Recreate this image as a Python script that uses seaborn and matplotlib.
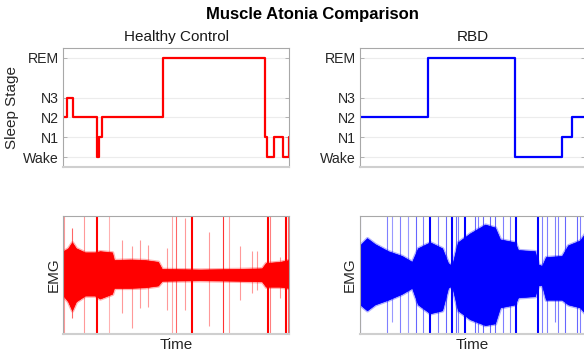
import matplotlib
matplotlib.use("Agg")
import matplotlib.pyplot as plt
from matplotlib.colors import to_rgba
import pandas as pd
import seaborn as sns

# ---------------- data ----------------
stage_names = ["Wake", "N1", "N2", "N3", "REM"]
stage_levels = [0, 1, 2, 3, 5]

# hypnograms (hours, stage label) - step changes
hc_times = [0.0, 0.12, 0.34, 1.18, 1.28, 1.36, 3.53, 7.16, 7.24, 7.49, 7.81, 8.0]
hc_stages = ["N2", "N3", "N2", "Wake", "N1", "N2", "REM", "N1", "Wake", "N1", "Wake", "N1"]

rbd_times = [0.0, 2.43, 5.52, 7.17, 7.53, 8.0]
rbd_stages = ["N2", "REM", "Wake", "N1", "N2", "N2"]

# EMG envelopes (hours, upper amplitude, lower amplitude)
hc_env_t = [0.0, 0.17, 0.31, 0.45, 0.77, 1.12, 1.30, 1.73, 1.80, 2.37, 2.90, 3.36, 3.50,
            4.85, 6.27, 7.05, 7.19, 7.69, 8.0]
hc_env_up = [0.40, 0.45, 0.55, 0.45, 0.38, 0.38, 0.40, 0.38, 0.25, 0.26, 0.25, 0.22, 0.10,
             0.09, 0.10, 0.11, 0.20, 0.22, 0.25]
hc_env_lo = [0.35, 0.45, 0.60, 0.45, 0.35, 0.35, 0.40, 0.32, 0.22, 0.22, 0.21, 0.18, 0.10,
             0.09, 0.10, 0.11, 0.20, 0.20, 0.22]

rbd_env_t = [0.0, 0.25, 0.53, 1.0, 1.49, 1.85, 2.06, 2.49, 2.92, 3.13, 3.27, 3.48, 3.91,
             4.45, 4.80, 4.98, 5.51, 5.62, 6.22, 6.33, 6.47, 6.61, 7.18, 7.40, 7.82, 8.0]
rbd_env_up = [0.50, 0.62, 0.52, 0.40, 0.32, 0.22, 0.45, 0.55, 0.45, 0.20, 0.15, 0.55, 0.70,
              0.85, 0.80, 0.60, 0.55, 0.42, 0.40, 0.18, 0.15, 0.30, 0.32, 0.50, 0.58, 0.70]
rbd_env_lo = [0.50, 0.60, 0.50, 0.42, 0.32, 0.22, 0.50, 0.65, 0.60, 0.22, 0.18, 0.60, 0.75,
              0.85, 0.82, 0.55, 0.50, 0.38, 0.36, 0.18, 0.17, 0.42, 0.42, 0.50, 0.55, 0.65]

# EMG spikes (hours, upper reach, lower reach, opacity)
hc_spk_t = [0.02, 0.32, 0.75, 1.19, 1.63, 2.07, 2.43, 2.72, 3.02, 3.67, 3.85, 4.00, 4.32,
            4.56, 5.18, 5.66, 5.89, 6.27, 6.69, 6.89, 7.25, 7.34, 7.69, 7.89, 7.96]
hc_spk_up = [1.0, 0.79, 1.0, 1.0, 1.0, 0.59, 0.48, 0.59, 0.50, 0.45, 1.0, 1.0, 0.96,
             1.0, 0.73, 1.0, 1.0, 0.48, 0.40, 0.40, 1.0, 1.0, 0.30, 1.0, 1.0]
hc_spk_lo = [1.0, 0.73, 1.0, 1.0, 1.0, 0.65, 0.90, 0.56, 0.55, 0.59, 1.0, 1.0, 0.60,
             1.0, 0.87, 1.0, 1.0, 0.42, 0.30, 0.25, 1.0, 1.0, 0.39, 1.0, 1.0]
hc_spk_a = [0.4, 0.6, 0.4, 1.0, 0.3, 0.4, 0.4, 0.4, 0.4, 0.4, 0.35, 0.6, 0.4,
            1.0, 0.4, 0.8, 0.35, 0.4, 0.4, 0.4, 1.0, 0.5, 0.4, 1.0, 0.6]

rbd_spk_t = [0.0, 0.95, 1.13, 1.42, 1.72, 1.99, 2.25, 2.49, 2.78, 3.06, 3.28, 3.40, 3.50,
             3.73, 4.09, 4.21, 4.38, 4.62, 4.80, 5.10, 5.33, 5.55, 6.34, 6.46, 6.64, 6.93,
             7.05, 7.29, 7.71, 7.82]
rbd_spk_up = [1.0, 1.0, 1.0, 1.0, 1.0, 1.0, 1.0, 1.0, 1.0, 1.0, 1.0, 1.0, 1.0,
              1.0, 1.0, 1.0, 1.0, 1.0, 1.0, 1.0, 1.0, 1.0, 1.0, 1.0, 1.0, 1.0,
              1.0, 1.0, 1.0, 1.0]
rbd_spk_lo = [1.0, 1.0, 0.8, 1.0, 1.0, 1.0, 1.0, 1.0, 1.0, 1.0, 1.0, 1.0, 1.0,
              1.0, 1.0, 1.0, 1.0, 1.0, 1.0, 1.0, 1.0, 1.0, 1.0, 1.0, 1.0, 0.8,
              1.0, 1.0, 1.0, 1.0]
rbd_spk_a = [0.5, 0.5, 0.4, 0.5, 0.4, 0.6, 0.5, 1.0, 0.5, 0.6, 1.0, 0.6, 0.5,
             1.0, 0.6, 0.5, 0.6, 0.6, 0.6, 0.5, 0.5, 1.0, 1.0, 0.5, 0.5, 0.5,
             0.5, 0.6, 0.6, 0.5]

# ---------------- style ----------------
sns.set_theme(style="white")
plt.rcParams["font.family"] = ["Liberation Sans", "DejaVu Sans"]
plt.rcParams["axes.edgecolor"] = "#a8a8a8"
plt.rcParams["axes.linewidth"] = 0.8
plt.rcParams["xtick.color"] = "#262626"
plt.rcParams["ytick.color"] = "#262626"

W, H = 584, 356
fig = plt.figure(figsize=(W / 100, H / 100), dpi=100)


def ax_at(left, top, right, bottom):
    return fig.add_axes([left / W, 1 - bottom / H, (right - left) / W, (bottom - top) / H])


ax_hc = ax_at(63.3, 48, 288.7, 167)
ax_rbd = ax_at(360, 48, 585, 167)
ax_hc_e = ax_at(63.3, 215.7, 288.7, 334)
ax_rbd_e = ax_at(360, 215.7, 585, 334)

level_of = dict(zip(stage_names, stage_levels))


def hypno(ax, times, stages, color, title, ylabel):
    df = pd.DataFrame({"t": times, "stage": [level_of[s] for s in stages]})
    for lv in stage_levels:
        ax.axhline(lv, color="#ececec", lw=0.8, zorder=0)
    sns.lineplot(data=df, x="t", y="stage", ax=ax, color=color, lw=1.6,
                 drawstyle="steps-post", sort=False, estimator=None)
    ax.set_xlim(0, 8)
    ax.set_ylim(-0.5, 5.5)
    ax.set_yticks(stage_levels)
    ax.set_yticklabels(stage_names, fontsize=10.2, color="#262626")
    ax.set_xticks([])
    ax.set_xlabel("")
    ax.spines["bottom"].set_color("#cfcfcf")
    ax.spines["bottom"].set_linewidth(1.5)
    ax.tick_params(axis="y", direction="in", length=3, width=0.6, color="#a8a8a8",
                   left=True, right=True, pad=3)
    ax.set_ylabel(ylabel, fontsize=11, color="#262626", labelpad=3)
    ax.set_title(title, fontsize=11, color="#1a1a1a", pad=5)


def emg(ax, et, eu, el, st, su, sl, sa, color):
    lo = [-v for v in el]
    # soft fringe then solid core
    ax.fill_between(et, lo, eu, facecolor=color, edgecolor=to_rgba(color, 0.3), lw=2.5)
    ax.fill_between(et, lo, eu, color=color, lw=0.5)
    for t, u, l, a in zip(st, su, sl, sa):
        ax.vlines(t, -l, u, colors=[to_rgba(color, a)], lw=1.5 if a >= 0.9 else 0.8)
    ax.set_xlim(0, 8)
    ax.set_ylim(-1, 1)
    ax.set_xticks([])
    ax.set_yticks([])
    ax.spines["bottom"].set_color("#cfcfcf")
    ax.spines["bottom"].set_linewidth(1.5)
    ax.set_xlabel("Time", fontsize=11, color="#262626", labelpad=3)
    ax.set_ylabel("EMG", fontsize=11, color="#262626", labelpad=2)


hypno(ax_hc, hc_times, hc_stages, "#ff0000", "Healthy Control", "Sleep Stage")
hypno(ax_rbd, rbd_times, rbd_stages, "#0000ff", "RBD", "")
emg(ax_hc_e, hc_env_t, hc_env_up, hc_env_lo, hc_spk_t, hc_spk_up, hc_spk_lo, hc_spk_a, "#ff0000")
emg(ax_rbd_e, rbd_env_t, rbd_env_up, rbd_env_lo, rbd_spk_t, rbd_spk_up, rbd_spk_lo, rbd_spk_a, "#0000ff")

fig.text(312 / W, 1 - 14 / H, "Muscle Atonia Comparison", ha="center", va="center",
         fontsize=12, fontweight="bold", color="#000000")

fig.savefig("out.png", dpi=100)
